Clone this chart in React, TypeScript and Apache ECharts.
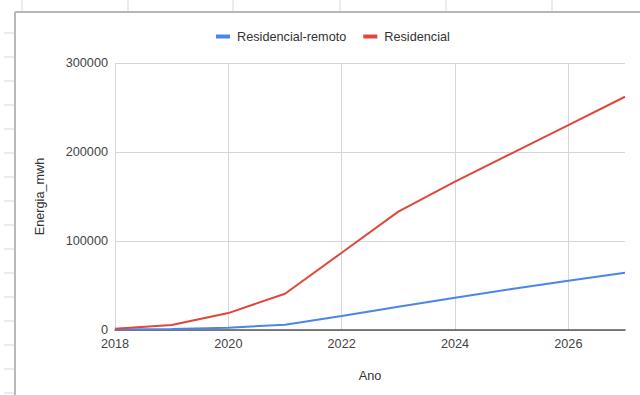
import React, { useEffect, useRef } from "react";
import * as echarts from "echarts";

const years = ["2018", "2019", "2020", "2021", "2022", "2023", "2024", "2025", "2026", "2027"];
const residencialRemoto = [500, 1000, 2600, 6000, 15800, 26000, 36300, 46000, 55400, 64400];
const residencial = [1500, 5600, 19000, 40800, 86800, 133000, 166600, 198500, 230300, 262100];
const yTicks = { min: 0, max: 300000, interval: 100000 };

const rowLines = [33, 57, 81, 105, 129, 153, 177, 201, 225, 249, 273, 297, 321, 345, 369, 393];
const colLines = [22, 128, 233, 340, 446, 552];

const FONT = "Liberation Sans, Arial, sans-serif";

export default function App() {
  const ref = useRef<HTMLDivElement>(null);
  useEffect(() => {
    if (!ref.current) return;
    const chart = echarts.init(ref.current, null, { renderer: "svg" });
    const deco: any[] = [];
    rowLines.forEach((y) =>
      deco.push({ type: "line", shape: { x1: 4, y1: y, x2: 15, y2: y }, style: { stroke: "#d9d9d9", lineWidth: 1 }, silent: true })
    );
    colLines.forEach((x) =>
      deco.push({ type: "line", shape: { x1: x, y1: 0, x2: x, y2: 12 }, style: { stroke: "#d9d9d9", lineWidth: 1 }, silent: true })
    );
    deco.push({ type: "line", shape: { x1: 15, y1: 12, x2: 640, y2: 12 }, style: { stroke: "#b8b8b8", lineWidth: 2 }, silent: true });
    deco.push({ type: "line", shape: { x1: 15, y1: 12, x2: 15, y2: 395 }, style: { stroke: "#b8b8b8", lineWidth: 2 }, silent: true });

    chart.setOption({
      animation: false,
      backgroundColor: "#ffffff",
      textStyle: { fontFamily: FONT },
      graphic: deco,
      legend: {
        top: 25,
        left: 211,
        itemGap: 17,
        itemWidth: 14,
        itemHeight: 4,
        icon: "rect",
        textStyle: { color: "#333", fontSize: 12.7, fontFamily: FONT, padding: [0, 0, 0, 2] },
        data: ["Residencial-remoto", "Residencial"],
      },
      grid: { left: 115, right: 15, top: 63, bottom: 65, containLabel: false },
      xAxis: {
        type: "category",
        data: years,
        boundaryGap: false,
        name: "Ano",
        nameLocation: "middle",
        nameGap: 39,
        nameTextStyle: { color: "#333", fontSize: 12.7, fontFamily: FONT },
        axisLine: { show: true, lineStyle: { color: "#555", width: 1.5 } },
        axisTick: { show: false },
        axisLabel: { interval: 1, color: "#444", fontSize: 12.7, fontFamily: FONT, margin: 7 },
        splitLine: { show: true, interval: 1, lineStyle: { color: "#d6d6d6", width: 1 } },
      },
      yAxis: {
        type: "value",
        min: yTicks.min,
        max: yTicks.max,
        interval: yTicks.interval,
        name: "Energia_mwh",
        nameLocation: "middle",
        nameGap: 69,
        nameRotate: 90,
        nameTextStyle: { color: "#333", fontSize: 12.7, fontFamily: FONT },
        axisLine: { show: false },
        axisTick: { show: false },
        axisLabel: { color: "#444", fontSize: 12.7, fontFamily: FONT, margin: 7, formatter: (v: number) => String(v) },
        splitLine: { show: true, lineStyle: { color: "#d6d6d6", width: 1 } },
      },
      series: [
        {
          name: "Residencial-remoto",
          type: "line",
          data: residencialRemoto,
          showSymbol: false,
          symbol: "none",
          lineStyle: { color: "#4a86e8", width: 2 },
          itemStyle: { color: "#4a86e8" },
        },
        {
          name: "Residencial",
          type: "line",
          data: residencial,
          showSymbol: false,
          symbol: "none",
          lineStyle: { color: "#e0463a", width: 2 },
          itemStyle: { color: "#e0463a" },
        },
      ],
    });
    return () => chart.dispose();
  }, []);
  return <div ref={ref} style={{ position: "fixed", left: 0, top: 0, width: 640, height: 395 }} />;
}
